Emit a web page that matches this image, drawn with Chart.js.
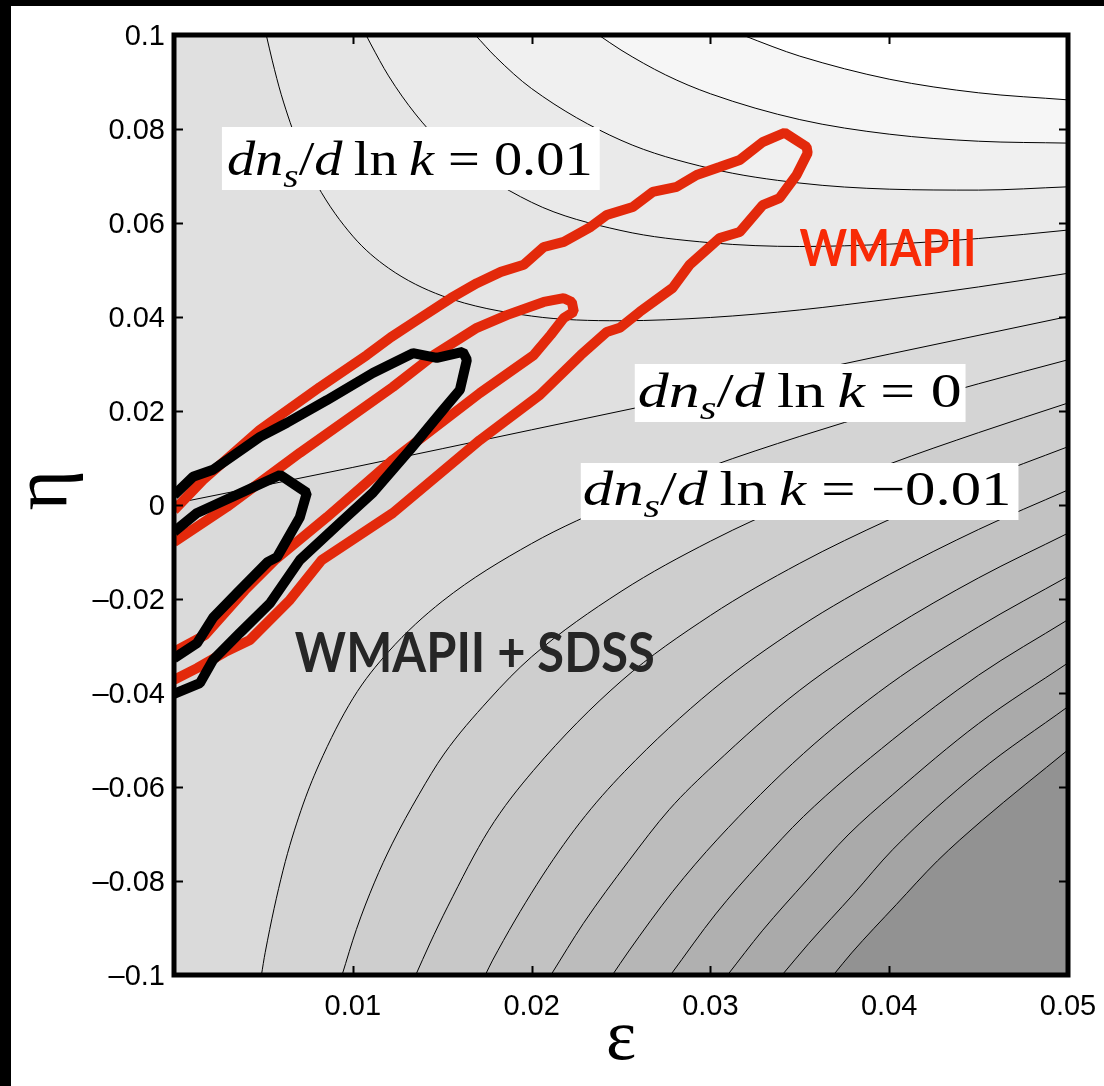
<!DOCTYPE html>
<html><head><meta charset="utf-8">
<script src="https://cdn.jsdelivr.net/npm/chart.js@4.4.1/dist/chart.umd.min.js"></script>
<style>html,body{margin:0;padding:0;background:#fff;overflow:hidden}canvas{display:block}</style>
</head><body>
<canvas id="c" width="1104" height="1086" style="width:1104px;height:1086px"></canvas>
<script>
// ---- axis ticks ----
const xTickValues = [0.01, 0.02, 0.03, 0.04, 0.05];
const yTickValues = [-0.1, -0.08, -0.06, -0.04, -0.02, 0, 0.02, 0.04, 0.06, 0.08, 0.1];

// ---- contour lines of dn_s/dlnk, levels in steps of 0.005 : [epsilon, eta] ----
const contourP5 = [[0.0318,0.1],[0.0335,0.0975],[0.035,0.0955],[0.04,0.0906],[0.045,0.0877],[0.05,0.0862]];
const contourP4 = [[0.02375,0.1],[0.025,0.0968],[0.0275,0.0915],[0.03,0.0875],[0.035,0.082],[0.04,0.0789],[0.045,0.0774],[0.05,0.077]];
const contourP3 = [[0.01685,0.1],[0.018,0.0953],[0.02,0.0886],[0.025,0.0776],[0.03,0.0716],[0.035,0.0685],[0.04,0.0672],[0.045,0.067],[0.05,0.0677]];
const contourP2 = [[0.01074,0.1],[0.011,0.0981],[0.012,0.0913],[0.0135,0.0832],[0.015,0.077],[0.02,0.0644],[0.025,0.0584],[0.03,0.0558],[0.035,0.055],[0.04,0.0555],[0.045,0.0567],[0.05,0.0585]];
const contourP1 = [[0.00516,0.1],[0.0055,0.0945],[0.006,0.0873],[0.007,0.0762],[0.008,0.0681],[0.01,0.0572],[0.012,0.0504],[0.015,0.0445],[0.02,0.0402],[0.025,0.0392],[0.03,0.0399],[0.035,0.0415],[0.04,0.0438],[0.045,0.0464],[0.05,0.0493]];
const contourZero = [[0,0.0003],[0.01,0.008],[0.02,0.016],[0.03,0.024],[0.04,0.0321],[0.05,0.0401]];
const contourM1 = [[0.00489,-0.1],[0.0051,-0.0952],[0.0061,-0.0777],[0.0071,-0.065],[0.0081,-0.0553],[0.01,-0.0412],[0.012,-0.0312],[0.015,-0.0205],[0.02,-0.0082],[0.025,0.0008],[0.03,0.0082],[0.035,0.0146],[0.04,0.0204],[0.045,0.0258],[0.05,0.0309]];
const contourM2 = [[0.0094,-0.1],[0.0102,-0.0903],[0.0112,-0.0804],[0.0122,-0.0721],[0.0137,-0.0616],[0.0151,-0.053],[0.0176,-0.0415],[0.02,-0.0323],[0.025,-0.0184],[0.03,-0.0077],[0.035,0.0011],[0.04,0.0087],[0.045,0.0154],[0.05,0.0217]];
const contourM3 = [[0.01352,-0.1],[0.0143,-0.0934],[0.0153,-0.0855],[0.0176,-0.0692],[0.0201,-0.0565],[0.025,-0.0375],[0.03,-0.0235],[0.035,-0.0124],[0.04,-0.0031],[0.045,0.0051],[0.05,0.0124]];
const contourM4 = [[0.01741,-0.1],[0.0178,-0.097],[0.0203,-0.0807],[0.0227,-0.0676],[0.0252,-0.0567],[0.0301,-0.0394],[0.035,-0.0259],[0.04,-0.0148],[0.045,-0.0052],[0.05,0.0032]];
const contourM5 = [[0.02108,-0.1],[0.0229,-0.089],[0.0254,-0.0759],[0.0277,-0.0648],[0.0302,-0.0553],[0.035,-0.0394],[0.04,-0.0265],[0.045,-0.0155],[0.05,-0.006]];
const contourM6 = [[0.02452,-0.1],[0.0254,-0.0951],[0.0279,-0.0822],[0.0304,-0.0711],[0.0352,-0.0529],[0.04,-0.0382],[0.045,-0.0259],[0.05,-0.0152]];
const contourM7 = [[0.02777,-0.1],[0.0303,-0.087],[0.0328,-0.076],[0.0352,-0.0663],[0.0402,-0.0499],[0.045,-0.0362],[0.05,-0.0244]];
const contourM8 = [[0.03096,-0.1],[0.0329,-0.0906],[0.0354,-0.0798],[0.0377,-0.0702],[0.0402,-0.0616],[0.045,-0.0465],[0.05,-0.0336]];
const contourM9 = [[0.03401,-0.1],[0.0355,-0.0933],[0.038,-0.0828],[0.0402,-0.0733],[0.045,-0.0568],[0.05,-0.0429]];
const contourM10 = [[0.03688,-0.1],[0.0379,-0.0953],[0.0404,-0.085],[0.0427,-0.0757],[0.0452,-0.0671],[0.05,-0.0521]];

// ---- likelihood contours : [epsilon, eta] ----
const wmapOuter = [[0,-0.0011],[0.00162,0.0053],[0.00481,0.016],[0.00816,0.0251],[0.01079,0.0319],[0.01213,0.0357],[0.01342,0.0389],[0.01548,0.044],[0.01694,0.0472],[0.01828,0.0496],[0.01956,0.0511],[0.02068,0.0549],[0.0218,0.056],[0.02331,0.0592],[0.0242,0.0617],[0.02566,0.0634],[0.02677,0.0666],[0.02812,0.0677],[0.02923,0.0702],[0.03052,0.0719],[0.03164,0.0734],[0.03292,0.0772],[0.03415,0.0792],[0.03538,0.0762],[0.03544,0.0749],[0.03482,0.0702],[0.03387,0.0653],[0.03292,0.0638],[0.03164,0.0581],[0.03052,0.0568],[0.02884,0.0511],[0.02789,0.0462],[0.02605,0.0411],[0.02493,0.0377],[0.0242,0.0368],[0.02275,0.0319],[0.02046,0.0234],[0.0171,0.0138],[0.01224,-0.0017],[0.00827,-0.0117],[0.00648,-0.0202],[0.00425,-0.0287],[0.00285,-0.0313],[0.00129,-0.0347],[0,-0.0372]];
const wmapInner = [[0,-0.0079],[0.00296,-0.0004],[0.00704,0.0111],[0.01224,0.0251],[0.01453,0.0319],[0.01694,0.0377],[0.01861,0.0404],[0.02068,0.0432],[0.0218,0.044],[0.02225,0.0432],[0.02236,0.0411],[0.0218,0.0398],[0.02107,0.0362],[0.02012,0.0319],[0.0171,0.0238],[0.01224,0.0096],[0.00855,-0.0026],[0.00565,-0.0117],[0.00397,-0.0181],[0.00173,-0.0277],[0.00017,-0.0309],[0,-0.0311]];
const sdssOuter = [[0,0.0021],[0.00106,0.006],[0.00218,0.0075],[0.00481,0.0145],[0.00632,0.0175],[0.00855,0.0223],[0.01112,0.0281],[0.01336,0.0323],[0.0147,0.0313],[0.01615,0.0326],[0.01638,0.0309],[0.01599,0.0245],[0.01504,0.0202],[0.01319,0.0117],[0.01112,0.0026],[0.00928,-0.0038],[0.00704,-0.0117],[0.00537,-0.0209],[0.00369,-0.0272],[0.00218,-0.033],[0.00145,-0.0379],[0,-0.0402]];
const sdssInner = [[0,-0.0057],[0.00129,-0.0017],[0.00593,0.0064],[0.00743,0.0026],[0.00704,-0.0026],[0.00576,-0.0111],[0.00525,-0.0121],[0.00369,-0.0181],[0.00218,-0.024],[0.00129,-0.0294],[0,-0.0326]];

// ---- annotations ----
const runningLabels = ['0.01', '0', '\u22120.01'];
const seriesNames = ['WMAPII', 'WMAPII + SDSS'];

const toXY = a => a.map(p => ({x: p[0], y: p[1]}));

const contourStyle = (data, fillTo, color, order) => ({
  data: toXY(data), borderColor: '#000', borderWidth: 1, pointRadius: 0,
  cubicInterpolationMode: 'monotone', fill: fillTo, backgroundColor: color, order: order
});
const thick = (data, color, order) => ({
  data: toXY(data), borderColor: color, borderWidth: 10, pointRadius: 0, tension: 0,
  fill: false, borderJoinStyle: 'bevel', borderCapStyle: 'butt', order: order, clip: 0
});

const datasets = [
  contourStyle(contourZero, 'end', '#e0e0e0', 20),
  contourStyle(contourP1, 'end', '#e5e5e5', 19),
  contourStyle(contourP2, 'end', '#eaeaea', 18),
  contourStyle(contourP3, 'end', '#f0f0f0', 17),
  contourStyle(contourP4, 'end', '#f6f6f6', 16),
  contourStyle(contourP5, 'end', '#ffffff', 15),
  contourStyle(contourM1, 'start', '#d4d4d4', 39),
  contourStyle(contourM2, 'start', '#cecece', 38),
  contourStyle(contourM3, 'start', '#c8c8c8', 37),
  contourStyle(contourM4, 'start', '#c2c2c2', 36),
  contourStyle(contourM5, 'start', '#bcbcbc', 35),
  contourStyle(contourM6, 'start', '#b6b6b6', 34),
  contourStyle(contourM7, 'start', '#b0b0b0', 33),
  contourStyle(contourM8, 'start', '#aaaaaa', 32),
  contourStyle(contourM9, 'start', '#a4a4a4', 31),
  contourStyle(contourM10, 'start', '#929292', 30),
  thick(wmapOuter, '#e3290b', -10),
  thick(wmapInner, '#e3290b', -10),
  thick(sdssOuter, '#000000', -20),
  thick(sdssInner, '#000000', -20)
];

const SERIF = '"Liberation Serif", "Times New Roman", serif';
function mathParts(v) {
  return [['d','i'],['n','i'],['s','sub'],['/','r'],['d','i'],['\u2009','r'],['ln','r'],['\u2009','r'],['k','i'],[' = ','r'],[v,'r']];
}
function fontFor(st, size) {
  if (st === 'i') return 'italic ' + size + 'px ' + SERIF;
  if (st === 'sub') return 'italic ' + (size * 0.7) + 'px ' + SERIF;
  return size + 'px ' + SERIF;
}
function mathWidth(ctx, parts, size) {
  let w = 0;
  for (const [t, st] of parts) { ctx.font = fontFor(st, size); w += ctx.measureText(t).width; }
  return w;
}
function drawMath(ctx, parts, x0, x1, base, size) {
  const sx = (x1 - x0) / mathWidth(ctx, parts, size);
  ctx.save();
  ctx.translate(x0, base);
  ctx.scale(sx, 1);
  let x = 0;
  ctx.fillStyle = '#000';
  ctx.textBaseline = 'alphabetic';
  ctx.textAlign = 'left';
  for (const [t, st] of parts) {
    ctx.font = fontFor(st, size);
    ctx.fillText(t, x, st === 'sub' ? size * 0.24 : 0);
    x += ctx.measureText(t).width;
  }
  ctx.restore();
}
function fitText(ctx, text, font, color, x0, x1, base) {
  ctx.save();
  ctx.font = font;
  const w = ctx.measureText(text).width;
  ctx.translate(x0, base);
  ctx.scale((x1 - x0) / w, 1);
  ctx.fillStyle = color;
  ctx.textAlign = 'left';
  ctx.textBaseline = 'alphabetic';
  ctx.fillText(text, 0, 0);
  ctx.restore();
}

const decor = {
  id: 'decor',
  beforeDraw(chart) {
    const ctx = chart.ctx, a = chart.chartArea;
    ctx.save();
    ctx.fillStyle = '#fff';
    ctx.fillRect(0, 0, chart.width, chart.height);
    ctx.fillStyle = '#000';
    ctx.fillRect(0, 0, chart.width, 6);
    ctx.fillRect(0, 0, 11, chart.height);
    ctx.fillStyle = '#dadada';
    ctx.fillRect(a.left, a.top, a.right - a.left, a.bottom - a.top);
    ctx.restore();
  },
  afterDatasetsDraw(chart) {
    const ctx = chart.ctx, a = chart.chartArea;
    const X = v => chart.scales.x.getPixelForValue(v);
    const Y = v => chart.scales.y.getPixelForValue(v);
    // label boxes: box [eps0, eps1, eta0, eta1], text span [eps0, eps1], baseline eta
    const boxes = [
      {b: [0.00268, 0.02381, 0.08043, 0.06702], t: [0.00296, 0.02341], base: 0.07021, v: runningLabels[0]},
      {b: [0.02577, 0.04427, 0.03, 0.01766], t: [0.02594, 0.04405], base: 0.02085, v: runningLabels[1]},
      {b: [0.02275, 0.04723, 0.00894, -0.00319], t: [0.02286, 0.04684], base: 0.0, v: runningLabels[2]}
    ];
    const size = 48;
    ctx.save();
    ctx.beginPath();
    ctx.rect(a.left, a.top, a.right - a.left, a.bottom - a.top);
    ctx.clip();
    for (const bx of boxes) {
      ctx.fillStyle = '#fff';
      ctx.fillRect(X(bx.b[0]), Y(bx.b[2]), X(bx.b[1]) - X(bx.b[0]), Y(bx.b[3]) - Y(bx.b[2]));
      drawMath(ctx, mathParts(bx.v), X(bx.t[0]), X(bx.t[1]), Y(bx.base), size);
    }
    fitText(ctx, seriesNames[0], 'bold 52px Lato, sans-serif', '#f82a06', X(0.03499), X(0.04488), Y(0.05085));
    fitText(ctx, seriesNames[1], 'bold 56px Lato, sans-serif', '#262626', X(0.00676), X(0.02689), Y(-0.03553));
    ctx.restore();
    // frame
    ctx.save();
    ctx.strokeStyle = '#000';
    ctx.lineWidth = 5;
    ctx.lineJoin = 'miter';
    ctx.strokeRect(a.left, a.top, a.right - a.left, a.bottom - a.top);
    ctx.lineWidth = 2;
    ctx.beginPath();
    for (const v of xTickValues) {
      if (v >= 0.05) continue;
      const px = Math.round(X(v)) + 0.5;
      ctx.moveTo(px, a.bottom); ctx.lineTo(px, a.bottom - 9);
      ctx.moveTo(px, a.top); ctx.lineTo(px, a.top + 9);
    }
    for (const v of yTickValues) {
      if (Math.abs(v) >= 0.1) continue;
      const py = Math.round(Y(v)) + 0.5;
      ctx.moveTo(a.left, py); ctx.lineTo(a.left + 9, py);
      ctx.moveTo(a.right, py); ctx.lineTo(a.right - 9, py);
    }
    ctx.stroke();
    ctx.restore();
  },
  afterDraw(chart) {
    const ctx = chart.ctx;
    ctx.save();
    ctx.fillStyle = '#000';
    ctx.textAlign = 'center';
    ctx.textBaseline = 'middle';
    ctx.font = '72px ' + SERIF;
    ctx.fillText('\u03b5', 621, 1040);
    ctx.translate(46, 490);
    ctx.rotate(-Math.PI / 2);
    ctx.font = '78px ' + SERIF;
    ctx.fillText('\u03b7', 0, 0);
    ctx.restore();
  }
};

const fmt = v => (v < 0 ? '\u2013' : '') + String(Math.abs(v));
const noPad = s => { s.paddingLeft = 0; s.paddingRight = 0; s.paddingTop = 0; s.paddingBottom = 0; };

new Chart(document.getElementById('c'), {
  type: 'line',
  data: {datasets},
  options: {
    responsive: false, animation: false, devicePixelRatio: 1,
    layout: {padding: {left: 0, top: 35, right: 36, bottom: 0}},
    scales: {
      x: {
        type: 'linear', min: 0, max: 0.05,
        afterFit(s) { s.height = 111; noPad(s); },
        afterBuildTicks(s) { s.ticks = xTickValues.map(v => ({value: v})); },
        grid: {display: false, drawTicks: false}, border: {display: false},
        ticks: {callback: v => fmt(v), font: {family: 'Liberation Sans', size: 29}, color: '#000', padding: 15, maxRotation: 0, autoSkip: false}
      },
      y: {
        type: 'linear', min: -0.1, max: 0.1,
        afterFit(s) { s.width = 174; noPad(s); },
        afterBuildTicks(s) { s.ticks = yTickValues.map(v => ({value: v})); },
        grid: {display: false, drawTicks: false}, border: {display: false},
        ticks: {callback: v => fmt(v), font: {family: 'Liberation Sans', size: 29}, color: '#000', padding: 9, labelOffset: 2, autoSkip: false}
      }
    },
    plugins: {legend: {display: false}, tooltip: {enabled: false}, filler: {drawTime: 'beforeDatasetsDraw'}}
  },
  plugins: [decor]
});
</script></body></html>
